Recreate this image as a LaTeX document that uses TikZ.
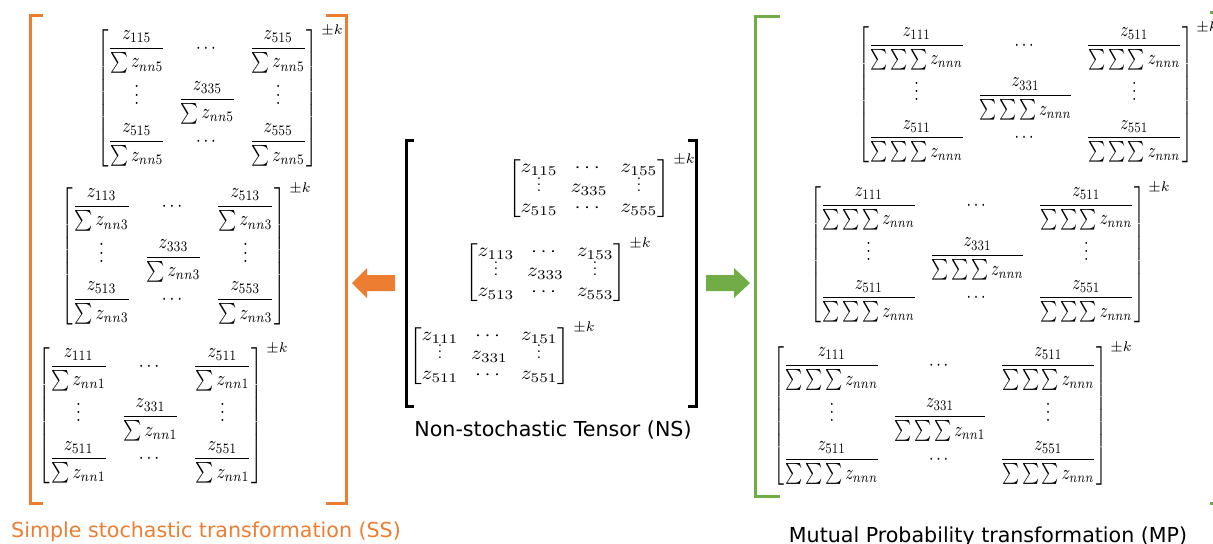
\documentclass[tikz,border=0pt]{standalone}
\usepackage{fontspec}
\usepackage{amsmath}
\usepackage{graphicx}
\newfontfamily\labelfont{DejaVu Sans}
\definecolor{ssorange}{HTML}{ED7D31}
\definecolor{mpgreen}{HTML}{70AD47}
\newcommand{\ssfr}[2]{\dfrac{z_{#1}}{\sum z_{#2}}}
\newcommand{\mpfr}[2]{\dfrac{z_{#1}}{\sum\sum\sum z_{#2}}}
\newcommand{\vd}{\smash{\raisebox{0.5pt}{\scalebox{0.8}{$\vdots$}}}}
% #1 column sep, #2 array stretch, #3 width, #4 total height, #5 rows
\newcommand{\matbox}[5]{{\setlength{\arraycolsep}{#1}\renewcommand{\arraystretch}{#2}%
  \resizebox*{#3}{#4}{$\begin{bmatrix}#5\end{bmatrix}$}}}
\tikzset{
  mat/.style={inner sep=0pt, outer sep=0pt, anchor=north west},
  pk/.style={inner sep=0pt, anchor=base west, font=\scriptsize},
  lbl/.style={inner sep=0pt, anchor=base, font=\labelfont\fontsize{10.3}{12}\selectfont},
  ssbr/.style={draw=ssorange, line width=1.5pt},
  nsbr/.style={draw=black, line width=1.5pt},
  mpbr/.style={draw=mpgreen, line width=1.5pt},
}
\begin{document}
\begin{tikzpicture}[x=0.5pt,y=-0.5pt]
\useasboundingbox (0,0) rectangle (1213,543);
\clip (0,0) rectangle (1213,543);
% ---------- SS group ----------
\draw[ssbr] (43,15) -- (30,15) -- (30,503) -- (43,503);
\draw[ssbr] (326,15) -- (346,15) -- (346,503) -- (326,503);
\node[mat] (ss5) at (97,30) {\matbox{4pt}{1}{110.5pt}{68.5pt}{\ssfr{115}{nn5} & \cdots & \ssfr{515}{nn5}\\ \vdots & \ssfr{335}{nn5} & \vdots\\ \ssfr{515}{nn5} & \cdots & \ssfr{555}{nn5}}};
\node[pk] (ss5k) at ([xshift=1.5pt,yshift=-2pt]ss5.north east) {$\pm k$};
\node[mat] (ss3) at (61,188) {\matbox{4pt}{1}{112.5pt}{68.5pt}{\ssfr{113}{nn3} & \cdots & \ssfr{513}{nn3}\\ \vdots & \ssfr{333}{nn3} & \vdots\\ \ssfr{513}{nn3} & \cdots & \ssfr{553}{nn3}}};
\node[pk] (ss3k) at ([xshift=1.5pt,yshift=-2pt]ss3.north east) {$\pm k$};
\node[mat] (ss1) at (38,348) {\matbox{4pt}{1}{112.5pt}{68pt}{\ssfr{111}{nn1} & \cdots & \ssfr{511}{nn1}\\ \vdots & \ssfr{331}{nn1} & \vdots\\ \ssfr{511}{nn1} & \cdots & \ssfr{551}{nn1}}};
\node[pk] (ss1k) at ([xshift=1.5pt,yshift=-2pt]ss1.north east) {$\pm k$};
\node[lbl, text=ssorange] (sslbl) at (206,537) {Simple stochastic transformation (SS)};
% ---------- NS group ----------
\draw[nsbr] (414,140) -- (406,140) -- (406,406) -- (414,406);
\draw[nsbr] (688,140) -- (696,140) -- (696,406) -- (688,406);
\node[mat] (ns5) at (508,159) {\matbox{3pt}{0.85}{81pt}{29.5pt}{z_{115} & \cdots & z_{155}\\ \vd & z_{335} & \vd\\ z_{515} & \cdots & z_{555}}};
\node[pk] (ns5k) at ([xshift=1.5pt,yshift=-2pt]ns5.north east) {$\pm k$};
\node[mat] (ns3) at (465,243) {\matbox{3pt}{0.85}{80.5pt}{29.5pt}{z_{113} & \cdots & z_{153}\\ \vd & z_{333} & \vd\\ z_{513} & \cdots & z_{553}}};
\node[pk] (ns3k) at ([xshift=1.5pt,yshift=-2pt]ns3.north east) {$\pm k$};
\node[mat] (ns1) at (409,327) {\matbox{3pt}{0.85}{80.5pt}{29pt}{z_{111} & \cdots & z_{151}\\ \vd & z_{331} & \vd\\ z_{511} & \cdots & z_{551}}};
\node[pk] (ns1k) at ([xshift=1.5pt,yshift=-2pt]ns1.north east) {$\pm k$};
\node[lbl] (nslbl) at (553,436) {Non-stochastic Tensor (NS)};
% ---------- arrows ----------
\fill[ssorange] (352,283) -- (367,268) -- (367,275) -- (395,275) -- (395,291) -- (367,291) -- (367,298) -- cycle;
\fill[mpgreen] (750,283) -- (734,268) -- (734,275) -- (706,275) -- (706,291) -- (734,291) -- (734,298) -- cycle;
% ---------- MP group ----------
\draw[mpbr] (780,16) -- (755,16) -- (755,496) -- (780,496);
\draw[mpbr] (1210,12) -- (1218,12) -- (1218,503) -- (1210,503);
\node[mat] (mp3) at (858,27) {\matbox{4pt}{1}{167.5pt}{68pt}{\mpfr{111}{nnn} & \cdots & \mpfr{511}{nnn}\\ \vdots & \mpfr{331}{nnn} & \vdots\\ \mpfr{511}{nnn} & \cdots & \mpfr{551}{nnn}}};
\node[pk] (mp3k) at ([xshift=1.5pt,yshift=-2pt]mp3.north east) {$\pm k$};
\node[mat] (mp2) at (810,187) {\matbox{4pt}{1}{167.5pt}{68pt}{\mpfr{111}{nnn} & \cdots & \mpfr{511}{nnn}\\ \vdots & \mpfr{331}{nnn} & \vdots\\ \mpfr{511}{nnn} & \cdots & \mpfr{551}{nnn}}};
\node[pk] (mp2k) at ([xshift=1.5pt,yshift=-2pt]mp2.north east) {$\pm k$};
\node[mat] (mp1) at (773,347) {\matbox{4pt}{1}{167pt}{69pt}{\mpfr{111}{nnn} & \cdots & \mpfr{511}{nnn}\\ \vdots & \mpfr{331}{nn1} & \vdots\\ \mpfr{511}{nnn} & \cdots & \mpfr{551}{nnn}}};
\node[pk] (mp1k) at ([xshift=1.5pt,yshift=-2pt]mp1.north east) {$\pm k$};
\node[lbl] (mplbl) at (988,542) {Mutual Probability transformation (MP)};
\end{tikzpicture}
\end{document}
